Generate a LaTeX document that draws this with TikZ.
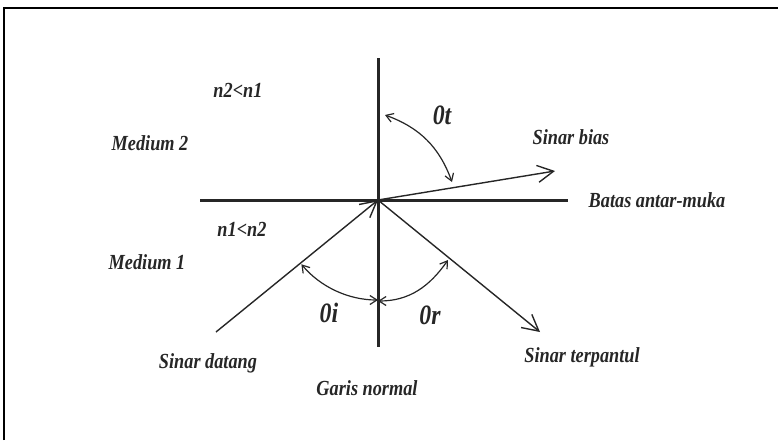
\documentclass[tikz,border=0pt]{standalone}
\usepackage{fontspec}
\setmainfont{Liberation Serif}
\newfontfamily\lblfont[FakeStretch=0.85]{Liberation Serif}
\usetikzlibrary{arrows.meta,calc}

\begin{document}
\begin{tikzpicture}[
    x=1pt, y=1pt,
    every node/.style={font=\lblfont\bfseries\itshape\fontsize{21.5}{23}\selectfont, inner sep=0pt, text=black!85},
    axis/.style={line width=3pt, black!85},
    ray/.style={line width=1.4pt, black!85},
    rarr/.style={ray, -{Straight Barb[length=16pt, width=17pt]}},
    angarr/.style={line width=1.2pt, black!85, {Straight Barb[length=7pt, width=9pt]}-{Straight Barb[length=7pt, width=9pt]}},
    ang/.style={font=\lblfont\bfseries\itshape\fontsize{28}{30}\selectfont}
  ]
  \useasboundingbox (0,0) rectangle (778,-440);
  % frame (only top and left edge are visible)
  \draw[line width=2pt] (4,-440) |- (778,-8);

  % normal line and boundary
  \coordinate (O) at (378,-200);
  \coordinate (ntop) at (378,-58);
  \coordinate (nbot) at (378,-347);
  \coordinate (bleft) at (200,-200);
  \coordinate (bright) at (568,-200);
  \draw[axis] (ntop) -- (nbot);
  \draw[axis] (bleft) -- (bright);

  % rays
  \coordinate (src) at (216,-332);
  \coordinate (refl) at (540,-332);
  \coordinate (refr) at (555,-171);
  \draw[rarr] (src) -- (O);
  \draw[rarr] (O) -- (refl);
  \draw[rarr] (O) -- (refr);

  % angle marks
  \coordinate (ai) at ($(O)+(220:100)$);
  \coordinate (an) at (378,-301);
  \coordinate (ar) at (448,-260);
  \coordinate (at1) at (385,-115);
  \coordinate (at2) at (452,-182);
  \draw[angarr] (ai) arc[start angle=220, end angle=270, radius=100];
  \draw[angarr] (an) to[out=0, in=-125] (ar);
  \draw[angarr] (at1) to[out=-20, in=110] (at2);

  % labels
  \node (n21) at (238,-90) {n2<n1};
  \node (med2) at (150,-143) {Medium 2};
  \node[ang] (thetat) at (442,-115) {0t};
  \node (bias) at (571,-137) {Sinar bias};
  \node (batas) at (657,-200) {Batas antar-muka};
  \node (n12) at (242,-229) {n1<n2};
  \node (med1) at (147,-262) {Medium 1};
  \node[ang] (thetai) at (329,-313) {0i};
  \node[ang] (thetar) at (430,-315) {0r};
  \node (datang) at (208,-363) {Sinar datang};
  \node (garis) at (367,-388) {Garis normal};
  \node (pantul) at (582,-357) {Sinar terpantul};
\end{tikzpicture}
\end{document}
